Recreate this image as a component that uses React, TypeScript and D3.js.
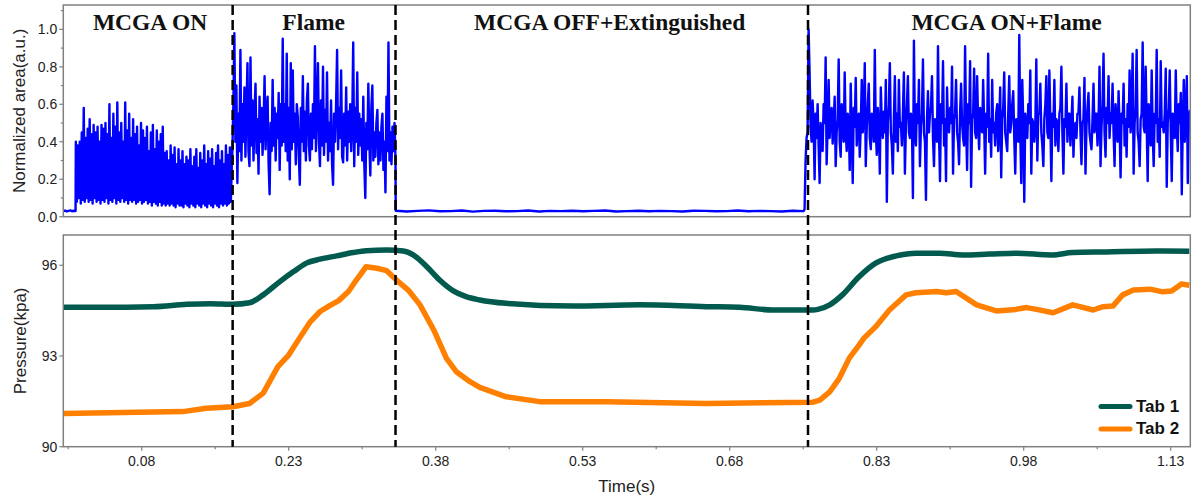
import React from 'react';
import * as d3 from 'd3';

// ---------- data ----------
const xTicks = [0.08, 0.23, 0.38, 0.53, 0.68, 0.83, 0.98, 1.13];
const xTickLabels = ['0.08', '0.23', '0.38', '0.53', '0.68', '0.83', '0.98', '1.13'];
const xMinorTicks = [0.005, 0.155, 0.305, 0.455, 0.605, 0.755, 0.905, 1.055];
const topYTicks = [0, 0.2, 0.4, 0.6, 0.8, 1.0];
const topYTickLabels = ['0.0', '0.2', '0.4', '0.6', '0.8', '1.0'];
const topYMinorTicks = [0.1, 0.3, 0.5, 0.7, 0.9, 1.1];
const botYTicks = [90, 93, 96];
const botYTickLabels = ['90', '93', '96'];

const phaseLabels = ['MCGA ON', 'Flame', 'MCGA OFF+Extinguished', 'MCGA ON+Flame'];
const phaseCenters = [0.0885, 0.2555, 0.5575, 0.9625];
const phaseBoundaries = [0.1728, 0.339, 0.7599];

// pressure traces (time s, pressure kPa)
const tab1Time = [0, 0.037, 0.092, 0.126, 0.150, 0.173, 0.190, 0.204, 0.221, 0.235, 0.248, 0.262, 0.279, 0.296, 0.309, 0.330, 0.347, 0.357, 0.371, 0.384, 0.398, 0.411, 0.425, 0.452, 0.520, 0.588, 0.656, 0.690, 0.724, 0.765, 0.770, 0.782, 0.795, 0.812, 0.829, 0.850, 0.870, 0.894, 0.918, 0.945, 0.972, 1.009, 1.030, 1.064, 1.115, 1.149];
const tab1Pressure = [94.61, 94.61, 94.63, 94.71, 94.73, 94.71, 94.76, 95.02, 95.46, 95.79, 96.07, 96.20, 96.31, 96.42, 96.48, 96.50, 96.47, 96.34, 95.95, 95.51, 95.15, 94.96, 94.85, 94.74, 94.65, 94.69, 94.63, 94.61, 94.52, 94.52, 94.54, 94.69, 95.02, 95.62, 96.07, 96.31, 96.40, 96.40, 96.34, 96.37, 96.40, 96.34, 96.42, 96.44, 96.47, 96.46];
const tab2Time = [0, 0.122, 0.146, 0.173, 0.190, 0.204, 0.219, 0.230, 0.242, 0.252, 0.262, 0.271, 0.281, 0.291, 0.299, 0.309, 0.320, 0.330, 0.340, 0.352, 0.364, 0.378, 0.391, 0.401, 0.415, 0.425, 0.452, 0.486, 0.554, 0.656, 0.765, 0.772, 0.782, 0.792, 0.802, 0.812, 0.817, 0.829, 0.843, 0.860, 0.870, 0.891, 0.901, 0.911, 0.932, 0.952, 0.972, 0.983, 0.993, 1.010, 1.030, 1.051, 1.061, 1.071, 1.081, 1.092, 1.109, 1.122, 1.131, 1.141, 1.149];
const tab2Pressure = [91.10, 91.16, 91.27, 91.32, 91.43, 91.77, 92.65, 93.03, 93.64, 94.13, 94.47, 94.65, 94.83, 95.13, 95.51, 95.95, 95.90, 95.82, 95.51, 95.18, 94.69, 93.86, 92.92, 92.48, 92.15, 91.96, 91.65, 91.49, 91.49, 91.43, 91.47, 91.54, 91.81, 92.27, 92.93, 93.36, 93.59, 93.97, 94.52, 95.02, 95.09, 95.13, 95.09, 95.13, 94.69, 94.49, 94.54, 94.60, 94.54, 94.43, 94.69, 94.52, 94.63, 94.65, 95.02, 95.18, 95.21, 95.12, 95.15, 95.38, 95.34];

// normalized flame area (percent of max), uniformly sampled within each segment
const segStart = [0, 0.0128, 0.1725, 0.3392, 0.7564];
const segEnd = [0.0125, 0.172, 0.339, 0.7555, 1.1495];
const areaIdle = [3, 3.3, 2.8, 3.1, 3.4, 2.9, 3.2, 3.0];
const areaMcgaOn = [
  40, 8, 38, 10, 40, 7, 45, 9, 58, 8, 42, 10, 47, 8, 52, 9, 44, 7, 49, 10,
  45, 8, 48, 9, 40, 7, 49, 9, 47, 8, 50, 10, 44, 7, 60, 9, 42, 8, 55, 10,
  48, 7, 61, 9, 45, 8, 50, 10, 40, 8, 61, 9, 46, 7, 55, 9, 42, 8, 52, 9,
  44, 7, 48, 8, 38, 9, 50, 7, 46, 8, 42, 9, 48, 7, 35, 8, 45, 6, 49, 8,
  36, 7, 46, 6, 40, 8, 44, 6, 48, 7, 34, 6, 35, 7, 30, 6, 38, 7, 33, 6,
  37, 5, 28, 7, 36, 6, 30, 6, 35, 5, 28, 7, 32, 6, 30, 5, 36, 7, 27, 6,
  32, 5, 36, 7, 26, 6, 34, 5, 30, 7, 38, 6, 28, 5, 35, 7, 31, 6, 36, 5,
  27, 7, 34, 6, 38, 5, 30, 7, 35, 6, 28, 7, 38, 6, 33, 7, 37, 8, 29,
];
const areaFlame = [
  35, 60, 98, 40, 70, 18, 55, 35, 89, 30,
  60, 40, 69, 32, 58, 82, 35, 27, 85, 38,
  62, 30, 55, 71, 34, 52, 23, 64, 40, 58,
  33, 50, 75, 36, 55, 64, 28, 12, 50, 35,
  73, 38, 58, 30, 55, 42, 66, 25, 60, 38,
  95, 40, 60, 35, 87, 30, 58, 20, 82, 36,
  78, 40, 55, 28, 60, 53, 32, 17, 58, 40,
  75, 35, 56, 30, 62, 71, 38, 30, 55, 36,
  60, 42, 91, 35, 58, 82, 40, 27, 62, 38,
  80, 33, 57, 40, 77, 30, 50, 35, 62, 28,
  17, 55, 40, 60, 89, 36, 58, 42, 78, 32,
  29, 55, 38, 69, 30, 56, 40, 60, 35, 50,
  93, 27, 58, 40, 77, 33, 55, 38, 52, 30,
  64, 28, 10, 50, 36, 71, 40, 22, 58, 70,
  30, 45, 32, 50, 57, 28, 45, 30, 48, 55,
  25, 40, 13, 64, 35, 93, 30, 45, 28, 48,
  35, 50, 30,
];
const areaOff = [
  3.2, 2.8, 3.1, 3.4, 2.9, 3.0, 3.3, 2.7, 3.1, 3.2, 2.9, 3.0, 3.3, 2.8, 3.1, 3.0,
  3.2, 2.9, 3.1, 3.3, 2.8, 3.0, 3.2, 2.9, 3.1, 3.0, 2.8, 3.2, 3.1, 2.9, 3.0, 3.3,
  2.9, 3.1, 3.0, 2.8, 3.2, 3.0,
];
const areaOnFlame = [
  4, 30, 42, 45, 100, 77, 48, 40, 62, 50, 20, 55, 42, 60, 38,
  18, 50, 45, 35, 60, 50, 85, 28, 48, 73, 42, 55, 58, 39, 50,
  64, 27, 45, 52, 84, 40, 32, 60, 48, 40, 77, 45, 35, 55, 50,
  25, 71, 45, 18, 58, 48, 74, 38, 52, 55, 32, 48, 73, 45, 55,
  82, 27, 48, 60, 71, 42, 36, 55, 50, 40, 89, 45, 33, 58, 48,
  23, 69, 50, 42, 56, 45, 73, 8, 50, 60, 82, 45, 38, 23, 52,
  75, 40, 55, 35, 73, 48, 50, 38, 55, 77, 23, 48, 60, 75, 45,
  42, 55, 50, 10, 94, 45, 38, 60, 50, 73, 27, 48, 55, 84, 45,
  40, 9, 52, 67, 45, 55, 58, 75, 42, 27, 52, 48, 40, 91, 45,
  19, 60, 50, 83, 38, 52, 19, 69, 48, 45, 58, 50, 80, 23, 52,
  55, 73, 45, 40, 28, 55, 71, 50, 42, 38, 91, 48, 25, 60, 50,
  83, 16, 52, 55, 79, 45, 42, 75, 50, 36, 58, 48, 45, 73, 50,
  23, 55, 48, 87, 40, 52, 32, 73, 45, 50, 38, 55, 60, 35, 50,
  69, 21, 52, 58, 77, 45, 40, 35, 55, 75, 45, 50, 60, 67, 42,
  23, 52, 48, 40, 97, 45, 18, 73, 50, 8, 55, 48, 42, 60, 50,
  78, 23, 52, 50, 40, 48, 84, 30, 55, 55, 71, 45, 38, 27, 52,
  60, 75, 45, 42, 78, 50, 19, 55, 48, 73, 38, 52, 50, 35, 55,
  58, 80, 45, 23, 52, 48, 71, 40, 55, 55, 38, 50, 64, 32, 48,
  50, 42, 55, 55, 69, 45, 28, 50, 52, 74, 23, 48, 58, 66, 45,
  40, 36, 52, 71, 45, 55, 55, 38, 50, 80, 27, 48, 60, 87, 45,
  32, 58, 50, 75, 42, 55, 50, 71, 45, 27, 60, 52, 40, 67, 48,
  21, 55, 50, 71, 38, 52, 32, 60, 48, 78, 45, 55, 87, 23, 50,
  58, 89, 45, 40, 27, 52, 55, 93, 48, 45, 80, 50, 19, 60, 52,
  38, 78, 45, 27, 55, 50, 89, 40, 52, 32, 83, 48, 50, 45, 55,
  79, 16, 50, 58, 78, 45, 19, 55, 52, 42, 78, 48, 35, 60, 50,
  66, 12, 50, 73, 40, 55, 75, 18, 50, 57,
];
const areaSegments = [areaIdle, areaMcgaOn, areaFlame, areaOff, areaOnFlame];

const legendLabels = ['Tab 1', 'Tab 2'];

// ---------- styles ----------
const SANS = '"Liberation Sans", Arial, Helvetica, sans-serif';
const SERIF = '"Liberation Serif", "Times New Roman", Times, serif';
const FRAME = '#808080';
const BLUE = '#0000ff';
const GREEN = '#005a4e';
const ORANGE = '#ff8000';

export default function App() {
  const left = 63.3, right = 1190.3;
  const x = d3.scaleLinear().domain([0, 1.15]).range([left, right]);
  const topT = 5, topB = 216.7;
  const yTop = d3.scaleLinear().domain([0, 1.13]).range([topB, topT]);
  const botT = 235, botB = 446.7;
  const yBot = d3.scaleLinear().domain([90, 97]).range([botB, botT]);

  const areaPoints: [number, number][] = [];
  areaSegments.forEach((vals, s) => {
    const idx = d3.scaleLinear().domain([0, vals.length - 1]).range([segStart[s], segEnd[s]]);
    vals.forEach((v, i) => areaPoints.push([idx(i), v / 100]));
  });

  const blueLine = d3.line<[number, number]>().x(d => x(d[0])).y(d => yTop(d[1]));
  const pLine = d3.line<[number, number]>().x(d => x(d[0])).y(d => yBot(d[1]));
  const tab1 = tab1Time.map((t, i) => [t, tab1Pressure[i]] as [number, number]);
  const tab2 = tab2Time.map((t, i) => [t, tab2Pressure[i]] as [number, number]);
  const greenPath = pLine.curve(d3.curveMonotoneX)(tab1) || '';
  const orangePath = pLine.curve(d3.curveLinear)(tab2) || '';

  return (
    <svg width={1196} height={500} style={{ position: 'absolute', left: 0, top: 0, background: '#fff' }}>
      <rect x={0} y={0} width={1196} height={500} fill="#fff" />

      {/* top panel */}
      <path d={blueLine(areaPoints) || ''} fill="none" stroke={BLUE} strokeWidth={2.4} strokeLinejoin="round" />
      <rect x={left} y={topT} width={right - left} height={topB - topT} fill="none" stroke={FRAME} strokeWidth={1.5} />
      {topYTicks.map((v, i) => (
        <g key={'ty' + i}>
          <line x1={left - 4} x2={left} y1={yTop(v)} y2={yTop(v)} stroke={FRAME} strokeWidth={1.2} />
          <text x={left - 6} y={yTop(v)} dy="0.35em" textAnchor="end" fontFamily={SANS} fontSize={14} fill="#222">
            {topYTickLabels[i]}
          </text>
        </g>
      ))}
      {topYMinorTicks.map((v, i) => (
        <line key={'tym' + i} x1={left - 2.5} x2={left} y1={yTop(v)} y2={yTop(v)} stroke={FRAME} strokeWidth={1.2} />
      ))}
      <text transform={`translate(25,${(topT + topB) / 2}) rotate(-90)`} textAnchor="middle" fontFamily={SANS} fontSize={17} fill="#222">
        Normalized area(a.u.)
      </text>
      {phaseLabels.map((l, i) => (
        <text key={'ph' + i} x={x(phaseCenters[i])} y={29.5} textAnchor="middle" fontFamily={SERIF} fontWeight="bold" fontSize={23.5} fill="#111">
          {l}
        </text>
      ))}

      {/* bottom panel */}
      <path d={greenPath} fill="none" stroke={GREEN} strokeWidth={5.5} strokeLinejoin="round" />
      <path d={orangePath} fill="none" stroke={ORANGE} strokeWidth={5.5} strokeLinejoin="round" />
      <rect x={left} y={botT} width={right - left} height={botB - botT} fill="none" stroke={FRAME} strokeWidth={1.5} />
      {botYTicks.map((v, i) => (
        <g key={'by' + i}>
          <line x1={left - 4} x2={left} y1={yBot(v)} y2={yBot(v)} stroke={FRAME} strokeWidth={1.2} />
          <text x={left - 6} y={yBot(v)} dy="0.35em" textAnchor="end" fontFamily={SANS} fontSize={14} fill="#222">
            {botYTickLabels[i]}
          </text>
        </g>
      ))}
      <text transform={`translate(26,${(botT + botB) / 2}) rotate(-90)`} textAnchor="middle" fontFamily={SANS} fontSize={17} fill="#222">
        Pressure(kpa)
      </text>
      {xTicks.map((v, i) => (
        <g key={'x' + i}>
          <line x1={x(v)} x2={x(v)} y1={botB} y2={botB + 4} stroke={FRAME} strokeWidth={1.2} />
          <text x={x(v)} y={466} textAnchor="middle" fontFamily={SANS} fontSize={14} fill="#222">
            {xTickLabels[i]}
          </text>
        </g>
      ))}
      {xMinorTicks.map((v, i) => (
        <line key={'xm' + i} x1={x(v)} x2={x(v)} y1={botB} y2={botB + 2.5} stroke={FRAME} strokeWidth={1.2} />
      ))}
      <text x={(left + right) / 2} y={491.5} textAnchor="middle" fontFamily={SANS} fontSize={17} fill="#222">
        Time(s)
      </text>

      {/* legend */}
      {legendLabels.map((l, i) => (
        <g key={'lg' + i}>
          <line x1={1101} x2={1130} y1={406.5 + i * 22.5} y2={406.5 + i * 22.5} stroke={i === 0 ? GREEN : ORANGE} strokeWidth={5} strokeLinecap="round" />
          <text x={1136} y={412 + i * 22} fontFamily={SANS} fontWeight="bold" fontSize={17} fill="#111">
            {l}
          </text>
        </g>
      ))}

      {/* phase boundaries */}
      {phaseBoundaries.map((b, i) => (
        <line key={'pb' + i} x1={x(b)} x2={x(b)} y1={topT} y2={botB} stroke="#000" strokeWidth={2.5} strokeDasharray="10,5" />
      ))}
    </svg>
  );
}
